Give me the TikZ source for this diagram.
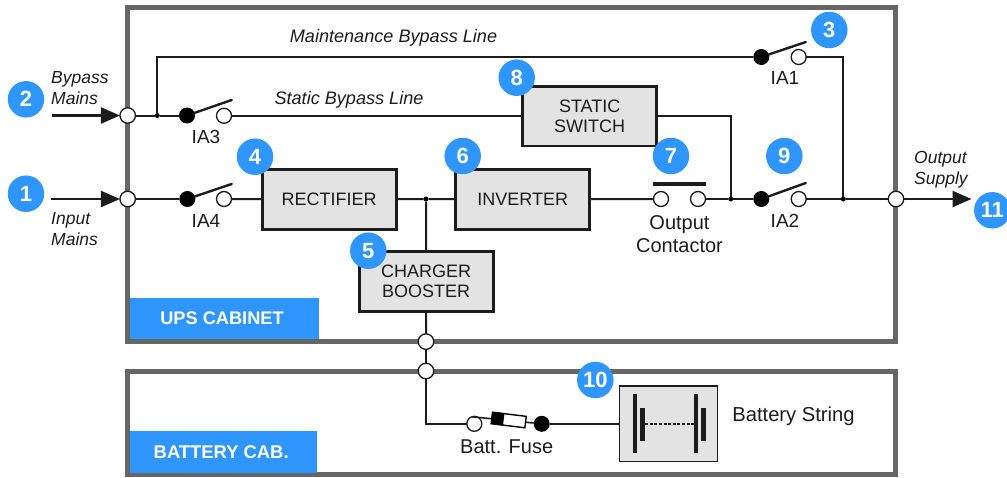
\documentclass[tikz,border=0pt]{standalone}
\usepackage{fontspec}
\setmainfont{Liberation Sans}
\usetikzlibrary{arrows.meta}
\definecolor{frameg}{HTML}{666666}
\definecolor{bluelab}{HTML}{3096FF}
\definecolor{boxg}{HTML}{E3E3E3}
\definecolor{ink}{HTML}{1C1C1C}
\newcommand{\fs}[2]{\fontsize{#1}{#2}\selectfont}
\tikzset{
  cabinet/.style={draw=frameg,line width=5pt,fill=white,inner sep=0pt,outer sep=0pt},
  cablabel/.style={fill=bluelab,text=white,font=\fs{18.2}{20}\bfseries,inner sep=0pt,outer sep=0pt},
  unit/.style={draw=ink,line width=2.8pt,fill=boxg,inner sep=0pt,outer sep=0pt,minimum width=134pt,minimum height=60pt,align=center,text=ink,font=\fs{18}{20.3}},
  terminal/.style={circle,draw=ink,line width=1.3pt,fill=white,minimum size=15.5pt,inner sep=0pt,outer sep=0pt},
  opencontact/.style={circle,draw=ink,line width=1.3pt,fill=white,minimum size=15pt,inner sep=0pt,outer sep=0pt},
  closedcontact/.style={circle,fill=black,minimum size=16pt,inner sep=0pt,outer sep=0pt},
  junction/.style={circle,fill=black,minimum size=5pt,inner sep=0pt,outer sep=0pt},
  badge/.style={circle,fill=bluelab,text=white,minimum size=36.5pt,inner sep=0pt,outer sep=0pt,font=\fs{22}{24}\bfseries},
  wire/.style={draw=ink,line width=2pt},
  swarm/.style={draw=ink,line width=2.4pt,line cap=round},
  feed/.style={draw=ink,line width=2.2pt,-{Triangle[length=19pt,width=16pt]}},
  lab/.style={text=ink,inner sep=0pt,align=center,font=\fs{19}{23.5}},
  bigger/.style={text=ink,inner sep=0pt,align=center,font=\fs{20}{23.5}},
  ital/.style={text=ink,inner sep=0pt,align=left,font=\fs{17.5}{20.5}\itshape},
  italline/.style={text=ink,inner sep=0pt,font=\fs{18.1}{20.5}\itshape},
  plate/.style={fill=ink,inner sep=0pt,outer sep=0pt},
}
\begin{document}
\begin{tikzpicture}[x=1pt,y=-1pt]
\useasboundingbox (0,0) rectangle (1007,477);
% cabinets
\node[cabinet,minimum width=768.3pt,minimum height=333.5pt] (ups) at (511.8,174.7) {};
\node[cabinet,minimum width=768.3pt,minimum height=103.5pt] (batcab) at (511.8,423.2) {};
\node[cablabel,minimum width=189pt,minimum height=41pt] (upslab) at (224.5,318.7) {\hspace*{-5pt}UPS CABINET};
\node[cablabel,minimum width=187.5pt,minimum height=42pt,font=\fs{18.4}{20}\bfseries] (batlab) at (223.7,452) {\hspace*{-5pt}BATTERY CAB.};
% terminals
\node[terminal] (tb) at (127.7,115.5) {};
\node[terminal] (ti) at (127.7,199) {};
\node[terminal] (to) at (896,199) {};
\node[terminal] (tc1) at (426,341.6) {};
\node[terminal] (tc2) at (426,371) {};
% junctions
\node[junction] (jb) at (157.3,115.5) {};
\node[junction] (jdc) at (426,199) {};
\node[junction] (js) at (730.7,199) {};
\node[junction] (jm) at (843.3,199) {};
% switches
\node[closedcontact] (ia3d) at (187,115.5) {};
\node[opencontact] (ia3o) at (224,115.8) {};
\node[closedcontact] (ia4d) at (187.3,199) {};
\node[opencontact] (ia4o) at (224,199) {};
\node[closedcontact] (ia1d) at (761.3,57) {};
\node[opencontact] (ia1o) at (798.7,57) {};
\node[closedcontact] (ia2d) at (761.3,199) {};
\node[opencontact] (ia2o) at (798.7,199) {};
\node[opencontact] (oc1) at (661,199) {};
\node[opencontact] (oc2) at (698,199) {};
\coordinate (ia3a) at (231.7,100);
\coordinate (ia4a) at (231.7,184);
\coordinate (ia1a) at (805.8,42);
\coordinate (ia2a) at (805.8,183);
\node[fill=ink,minimum width=52.4pt,minimum height=4pt,inner sep=0pt] (ocbar) at (679.5,184) {};
% units
\node[unit] (rect) at (329.2,199.1) {RECTIFIER};
\node[unit] (inv) at (522.8,199.1) {INVERTER};
\node[unit,minimum height=59.5pt] (ss) at (589.7,116.3) {STATIC\\SWITCH};
\node[unit] (chg) at (426.2,281.5) {CHARGER\\BOOSTER};
% battery section
\node[opencontact] (fo) at (474.3,423.8) {};
\node[closedcontact] (fd) at (541.7,423.8) {};
\node[draw=ink,line width=1.5pt,fill=boxg,inner sep=0pt,outer sep=0pt,minimum width=98pt,minimum height=75.7pt] (bat) at (668.3,423.8) {};
\node[plate,minimum width=4.8pt,minimum height=59.3pt] (p1) at (635,423.7) {};
\node[plate,minimum width=5pt,minimum height=33pt] (p2) at (642.7,424.2) {};
\node[plate,minimum width=4.8pt,minimum height=59.3pt] (p3) at (696,423.7) {};
\node[plate,minimum width=5pt,minimum height=33pt] (p4) at (703.7,424.2) {};
\draw[draw=ink,line width=1.8pt,dash pattern=on 3pt off 1.6pt] (p2.east |- 0,423.7) -- (p3.west |- 0,423.7);
% wires
\coordinate (inb) at (52,115.5);
\coordinate (ini) at (51,199);
\coordinate (outp) at (971.5,199);
\draw[feed] (inb) -- (tb);
\draw[feed] (ini) -- (ti);
\draw[feed] (to) -- (outp);
\draw[wire] (tb) -- (jb) -- (ia3d);
\draw[wire] (jb) |- (ia1d);
\draw[wire] (ia1o) -| (jm);
\draw[wire] (ia3o) -- (ss.west |- ia3o);
\draw[wire] (ss) -| (js);
\draw[wire] (ti) -- (ia4d);
\draw[wire] (ia4o) -- (rect);
\draw[wire] (rect) -- (jdc) -- (inv);
\draw[wire] (jdc) -- (chg);
\draw[wire] (inv) -- (oc1);
\draw[wire] (oc2) -- (js) -- (ia2d);
\draw[wire] (ia2o) -- (jm) -- (to);
\draw[wire] (chg) -- (tc1);
\draw[wire] (tc1) -- (tc2);
\draw[wire] (tc2) |- (fo);
\draw[wire] (fd) -- (bat);
\draw[swarm] (ia3d) -- (ia3a);
\draw[swarm] (ia4d) -- (ia4a);
\draw[swarm] (ia1d) -- (ia1a);
\draw[swarm] (ia2d) -- (ia2a);
% fuse
\draw[draw=ink,line width=1.6pt] (fo.110) -- (fd);
\node[draw=black,line width=1.4pt,fill=white,minimum width=34pt,minimum height=11.5pt,inner sep=0pt,outer sep=0pt,rotate=-7] (fuse) at (508.7,420) {};
\node[fill=black,minimum width=12pt,minimum height=12.5pt,inner sep=0pt,outer sep=0pt,rotate=-7,anchor=west] (fuseb) at (fuse.west) {};
% texts
\node[lab] (tia3) at (206,137) {IA3};
\node[lab] (tia4) at (206,221) {IA4};
\node[lab] (tia1) at (785,78) {IA1};
\node[lab] (tia2) at (785,221) {IA2};
\node[bigger] (toc) at (679.5,234) {Output\\Contactor};
\node[bigger] (tfuse) at (506.7,447) {Batt. Fuse};
\node[bigger,font=\fs{20.2}{23}] (tbs) at (793.5,416) {Battery String};
\node[ital,anchor=west] (tbm) at (51,88) {Bypass\\Mains};
\node[ital,anchor=west] (tim) at (51,229) {Input\\Mains};
\node[ital,anchor=west] (tos) at (914,169.5) {Output\\Supply};
\node[italline] (tmb) at (393.5,38) {Maintenance Bypass Line};
\node[italline] (tsb) at (349,100) {Static Bypass Line};
% badges
\node[badge] (b1) at (26,193.7) {1};
\node[badge] (b2) at (26,99.3) {2};
\node[badge] (b3) at (829.3,30) {3};
\node[badge] (b4) at (255,156.7) {4};
\node[badge] (b5) at (368.3,250.7) {5};
\node[badge] (b6) at (462.7,156) {6};
\node[badge] (b7) at (671,156) {7};
\node[badge] (b8) at (516.7,77.7) {8};
\node[badge] (b9) at (784.3,156) {9};
\node[badge] (b10) at (595.3,380) {10};
\node[badge] (b11) at (992.3,210.3) {11};
\end{tikzpicture}
\end{document}
